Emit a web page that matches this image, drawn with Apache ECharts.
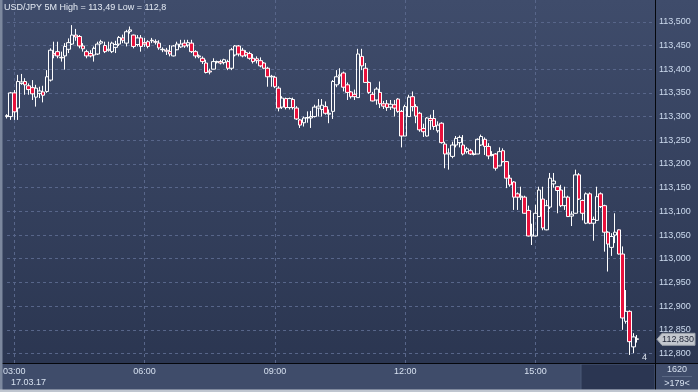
<!DOCTYPE html>
<html><head><meta charset="utf-8">
<script src="https://cdn.jsdelivr.net/npm/echarts@6/dist/echarts.min.js"></script>
<style>html,body{margin:0;padding:0;background:#3f4c69;overflow:hidden}#c{width:698px;height:392px}</style>
</head><body><div id="c"></div>
<script>
// ---- data (5-minute USD/JPY candles, 17.03.17) ----
const opens = [
113.300,113.300,113.350,113.318,113.370,113.374,113.365,113.361,113.341,113.349,
113.352,113.353,113.377,113.433,113.437,113.425,113.428,113.442,113.453,113.472,
113.469,113.449,113.437,113.433,113.430,113.432,113.455,113.450,113.440,113.437,
113.446,113.453,113.466,113.455,113.480,113.472,113.452,113.466,113.456,113.458,
113.460,113.458,113.455,113.441,113.440,113.437,113.428,113.441,113.447,113.455,
113.451,113.455,113.437,113.428,113.423,113.413,113.396,113.400,113.415,113.416,
113.414,113.416,113.402,113.430,113.449,113.440,113.435,113.433,113.423,113.422,
113.418,113.413,113.402,113.384,113.383,113.360,113.320,113.338,113.319,113.336,
113.318,113.293,113.287,113.297,113.297,113.300,113.318,113.315,113.321,113.305,
113.311,113.367,113.386,113.392,113.367,113.352,113.347,113.340,113.427,113.402,
113.372,113.347,113.335,113.351,113.327,113.327,113.320,113.325,113.337,113.311,
113.259,113.300,113.342,113.321,113.307,113.275,113.259,113.296,113.296,113.270,
113.286,113.242,113.221,113.216,113.240,113.245,113.240,113.226,113.228,113.220,
113.221,113.240,113.252,113.237,113.218,113.221,113.196,113.228,113.205,113.170,
113.162,113.137,113.130,113.130,113.102,113.048,113.048,113.089,113.126,113.061,
113.109,113.158,113.152,113.145,113.112,113.130,113.090,113.096,113.177,113.123,
113.075,113.137,113.075,113.081,113.137,113.112,113.056,113.024,113.050,113.061,
113.010,112.868,112.889,112.814,112.830];
const closes = [
113.302,113.350,113.310,113.374,113.373,113.367,113.357,113.348,113.360,113.354,
113.345,113.384,113.440,113.430,113.428,113.424,113.448,113.456,113.472,113.468,
113.449,113.443,113.428,113.428,113.444,113.453,113.458,113.437,113.442,113.455,
113.452,113.467,113.461,113.479,113.483,113.448,113.466,113.448,113.453,113.448,
113.461,113.457,113.445,113.442,113.438,113.432,113.449,113.453,113.453,113.449,
113.456,113.437,113.428,113.426,113.416,113.393,113.394,113.416,113.416,113.413,
113.420,113.402,113.441,113.449,113.432,113.428,113.430,113.423,113.416,113.418,
113.407,113.402,113.384,113.385,113.363,113.318,113.339,113.319,113.338,113.319,
113.295,113.282,113.297,113.298,113.300,113.320,113.322,113.324,113.307,113.307,
113.374,113.384,113.388,113.362,113.351,113.342,113.342,113.432,113.407,113.372,
113.351,113.333,113.358,113.327,113.322,113.319,113.326,113.318,113.311,113.259,
113.321,113.341,113.321,113.301,113.272,113.268,113.297,113.292,113.279,113.282,
113.245,113.221,113.223,113.240,113.254,113.256,113.221,113.232,113.221,113.221,
113.252,113.258,113.237,113.217,113.220,113.191,113.226,113.205,113.170,113.156,
113.130,113.130,113.132,113.096,113.048,113.050,113.096,113.145,113.065,113.112,
113.170,113.164,113.144,113.112,113.130,113.089,113.094,113.177,113.126,113.096,
113.137,113.075,113.083,113.131,113.110,113.056,113.031,113.047,113.056,113.010,
112.875,112.889,112.825,112.835,112.831];
const lows = [
113.296,113.293,113.293,113.293,113.367,113.346,113.346,113.335,113.321,113.339,
113.330,113.350,113.374,113.423,113.423,113.416,113.399,113.434,113.451,113.460,
113.444,113.437,113.423,113.425,113.416,113.430,113.452,113.434,113.437,113.434,
113.434,113.449,113.455,113.448,113.475,113.444,113.448,113.437,113.447,113.444,
113.455,113.452,113.441,113.436,113.430,113.427,113.427,113.440,113.445,113.445,
113.446,113.434,113.423,113.423,113.411,113.391,113.389,113.400,113.412,113.410,
113.410,113.398,113.398,113.427,113.427,113.425,113.426,113.420,113.412,113.412,
113.404,113.400,113.363,113.363,113.360,113.311,113.316,113.315,113.315,113.315,
113.293,113.276,113.279,113.287,113.276,113.298,113.300,113.300,113.304,113.286,
113.295,113.362,113.369,113.353,113.335,113.338,113.335,113.340,113.398,113.371,
113.348,113.332,113.325,113.318,113.316,113.312,113.314,113.300,113.308,113.235,
113.259,113.300,113.311,113.286,113.268,113.257,113.258,113.272,113.272,113.266,
113.243,113.191,113.188,113.212,113.235,113.235,113.218,113.222,113.219,113.218,
113.221,113.238,113.219,113.210,113.216,113.186,113.195,113.203,113.149,113.152,
113.103,113.103,113.124,113.095,113.047,113.029,113.047,113.088,113.060,113.060,
113.105,113.150,113.096,113.109,113.103,113.088,113.069,113.095,113.124,113.081,
113.073,113.073,113.038,113.080,113.107,113.015,112.973,113.006,113.033,113.009,
112.850,112.863,112.797,112.801,112.823];
const highs = [
113.305,113.352,113.356,113.388,113.390,113.381,113.370,113.377,113.367,113.363,
113.365,113.398,113.444,113.458,113.458,113.437,113.455,113.465,113.493,113.485,
113.472,113.455,113.441,113.440,113.448,113.458,113.462,113.458,113.458,113.458,
113.460,113.470,113.473,113.483,113.490,113.473,113.472,113.472,113.466,113.461,
113.466,113.463,113.461,113.446,113.445,113.451,113.451,113.458,113.462,113.462,
113.462,113.462,113.440,113.431,113.427,113.420,113.401,113.423,113.418,113.420,
113.422,113.420,113.445,113.451,113.451,113.445,113.440,113.437,113.432,113.427,
113.425,113.415,113.405,113.388,113.386,113.364,113.343,113.340,113.340,113.340,
113.322,113.295,113.300,113.311,113.312,113.325,113.337,113.337,113.332,113.315,
113.377,113.398,113.402,113.395,113.372,113.354,113.357,113.443,113.443,113.413,
113.374,113.352,113.362,113.374,113.333,113.335,113.335,113.335,113.339,113.314,
113.325,113.346,113.353,113.326,113.310,113.285,113.299,113.304,113.314,113.290,
113.288,113.247,113.233,113.247,113.259,113.260,113.261,113.236,113.232,113.224,
113.254,113.262,113.256,113.244,113.227,113.223,113.235,113.233,113.206,113.177,
113.164,113.140,113.152,113.133,113.112,113.074,113.114,113.152,113.152,113.124,
113.181,113.181,113.153,113.156,113.152,113.133,113.100,113.188,113.181,113.125,
113.140,113.140,113.089,113.152,113.140,113.114,113.058,113.054,113.096,113.062,
113.026,112.934,112.891,112.843,112.839];
const firstSlot = '02:50';          // time of the first 5-minute slot
const slotCount = 180;               // visible slots on the time axis
const xTickLabels = ['03:00','06:00','09:00','12:00','15:00'];
const dateLabel = '17.03.17';
const titleText = 'USD/JPY 5M High = 113,49 Low = 112,8';
const lastPrice = 112.83;
const barCountText = '1620';
const scrollText = '>179<';
const cornerText = '4';

// ---- categories ----
const categories = [];
{
  const [h0, m0] = firstSlot.split(':').map(Number);
  for (let k = 0; k < slotCount; k++) {
    const t = h0 * 60 + m0 + k * 5;
    const hh = Math.floor(t / 60) % 24, mm = t % 60;
    categories.push(String(hh).padStart(2, '0') + ':' + String(mm).padStart(2, '0'));
  }
}
const candles = opens.map((o, i) => [o, closes[i], lows[i], highs[i]]);
const isTick = (idx, val) => xTickLabels.indexOf(val) >= 0;
const fmt = v => v.toFixed(3).replace('.', ',');

const W = 698, H = 392, PANE_R = 655, PANE_B = 363;
const FONT = '"Liberation Sans", Arial, sans-serif';
const chart = echarts.init(document.getElementById('c'), null, {renderer: 'canvas'});

const baseGraphics = [
  {type: 'rect', z: -10, silent: true, shape: {x: 0, y: 0, width: W, height: PANE_B},
   style: {fill: new echarts.graphic.LinearGradient(0, 0, 0, 1, [
     {offset: 0, color: '#3f4c6b'}, {offset: 1, color: '#2b3651'}])}},
  {type: 'rect', z: -10, silent: true, shape: {x: 0, y: PANE_B, width: W, height: H - PANE_B},
   style: {fill: '#3f4c6a'}},
  {type: 'rect', z: -9, silent: true, shape: {x: 581, y: PANE_B + 1, width: PANE_R - 581, height: 26},
   style: {fill: '#2b3652', stroke: '#4a5876', lineWidth: 1}},
  {type: 'line', z: 20, silent: true, shape: {x1: PANE_R + 0.5, y1: 0, x2: PANE_R + 0.5, y2: H},
   style: {stroke: '#05070c', lineWidth: 1}},
  {type: 'line', z: 20, silent: true, shape: {x1: 0, y1: PANE_B + 0.5, x2: W, y2: PANE_B + 0.5},
   style: {stroke: '#05070c', lineWidth: 1}},
  {type: 'rect', z: 20, silent: true, shape: {x: 0, y: 0, width: 2.5, height: H},
   style: {fill: '#7c889e'}},
  {type: 'rect', z: 20, silent: true, shape: {x: 0, y: H - 2.5, width: W, height: 2.5},
   style: {fill: '#bfc5cf'}},
  {type: 'text', z: 20, silent: true, x: 4, y: 8,
   style: {text: titleText, fill: '#e4eaf3', font: '9px ' + FONT, verticalAlign: 'middle'}},
  {type: 'text', z: 20, silent: true, x: 11, y: 383,
   style: {text: dateLabel, fill: '#d6e0ef', font: '9px ' + FONT, verticalAlign: 'middle'}},
  {type: 'text', z: 20, silent: true, x: 642, y: 358,
   style: {text: cornerText, fill: '#dfe6ef', font: '9px ' + FONT, verticalAlign: 'middle'}},
  {type: 'text', z: 20, silent: true, x: 677, y: 370,
   style: {text: barCountText, fill: '#d6e0ef', font: '9px ' + FONT, align: 'center', verticalAlign: 'middle'}},
  {type: 'line', z: 20, silent: true, shape: {x1: 662, y1: 376.5, x2: 692, y2: 376.5},
   style: {stroke: '#5a6884', lineWidth: 1}},
  {type: 'text', z: 20, silent: true, x: 677, y: 384,
   style: {text: scrollText, fill: '#d6e0ef', font: '9px ' + FONT, align: 'center', verticalAlign: 'middle'}}
];

const gridLineStyle = {color: '#58668a', type: [3, 3], width: 1};

chart.setOption({
  animation: false,
  backgroundColor: 'transparent',
  grid: {left: 2.8, right: W - PANE_R, top: 0, bottom: H - PANE_B, containLabel: false},
  xAxis: {
    type: 'category', data: categories, boundaryGap: false,
    axisLine: {show: false}, axisTick: {show: false},
    axisLabel: {interval: isTick, color: '#d6e0ef', fontSize: 9, fontFamily: FONT, margin: 4},
    splitLine: {show: true, interval: isTick, lineStyle: gridLineStyle}
  },
  yAxis: {
    type: 'value', position: 'right', scale: true,
    min: 112.78, max: 113.546, minInterval: 0.05, maxInterval: 0.05, splitNumber: 15,
    axisLine: {show: false}, axisTick: {show: false},
    axisLabel: {formatter: fmt, color: '#cddbef', fontSize: 9, fontFamily: FONT, margin: 4,
                showMinLabel: false, showMaxLabel: false},
    splitLine: {show: true, lineStyle: gridLineStyle, showMinLine: false, showMaxLine: false}
  },
  series: [{
    type: 'candlestick', data: candles, barWidth: 4, clip: false,
    itemStyle: {color: 'rgba(0,0,0,0)', color0: '#e8113c', borderColor: '#ffffff',
                borderColor0: '#ffffff', borderWidth: 1}
  }],
  graphic: {elements: baseGraphics}
});

// last-price tag on the right axis, placed by the axis scale
const tagY = chart.convertToPixel({yAxisIndex: 0}, lastPrice);
chart.setOption({graphic: {elements: baseGraphics.concat([
  {type: 'polygon', z: 21, silent: true,
   shape: {points: [[657, tagY], [662, tagY - 6], [695, tagY - 6], [695, tagY + 6], [662, tagY + 6]]},
   style: {fill: '#c3c7ce', stroke: '#9aa0aa', lineWidth: 1}},
  {type: 'text', z: 22, silent: true, x: 678, y: tagY,
   style: {text: fmt(lastPrice), fill: '#1e2436', font: '9px ' + FONT, align: 'center', verticalAlign: 'middle'}}
])}});
</script>
</body></html>
